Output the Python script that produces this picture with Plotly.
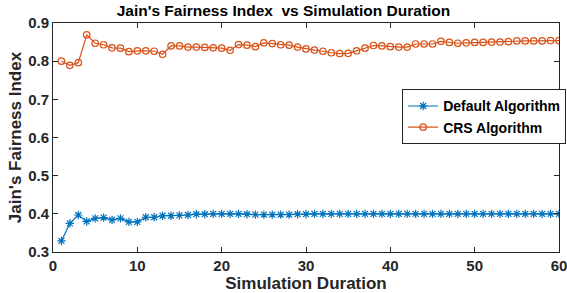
import plotly.graph_objects as go

duration = list(range(1, 61))
default_alg = [0.329, 0.375, 0.397, 0.380, 0.388, 0.390, 0.384, 0.388, 0.379, 0.379,
               0.391, 0.391, 0.395, 0.395, 0.396, 0.397, 0.399, 0.399, 0.400, 0.400,
               0.400, 0.400, 0.399, 0.398, 0.398, 0.398, 0.398, 0.398, 0.399, 0.399,
               0.400, 0.400, 0.400, 0.400, 0.400, 0.400, 0.400, 0.400, 0.400, 0.400,
               0.400, 0.400, 0.400, 0.400, 0.400, 0.400, 0.400, 0.400, 0.400, 0.400,
               0.400, 0.400, 0.400, 0.400, 0.400, 0.400, 0.400, 0.400, 0.400, 0.400]
crs_alg = [0.800, 0.789, 0.796, 0.869, 0.847, 0.843, 0.835, 0.834, 0.825, 0.827,
           0.827, 0.826, 0.818, 0.840, 0.840, 0.837, 0.837, 0.836, 0.835, 0.834,
           0.8285, 0.8435, 0.842, 0.838, 0.848, 0.846, 0.843, 0.842, 0.837, 0.832,
           0.829, 0.826, 0.822, 0.820, 0.8205, 0.827, 0.834, 0.841, 0.840, 0.838,
           0.837, 0.837, 0.845, 0.845, 0.845, 0.852, 0.849, 0.847, 0.848, 0.849,
           0.849, 0.850, 0.850, 0.851, 0.853, 0.853, 0.853, 0.853, 0.854, 0.854]
x_ticks = [0, 10, 20, 30, 40, 50, 60]
y_ticks = [0.3, 0.4, 0.5, 0.6, 0.7, 0.8, 0.9]

FONT = "Liberation Sans, Arial, Helvetica, sans-serif"
BLUE = "#0072BD"
ORANGE = "#D95319"
DARK = "#262626"

fig = go.Figure()
fig.add_trace(go.Scatter(
    x=duration, y=default_alg, name="Default Algorithm", mode="lines+markers",
    line=dict(color=BLUE, width=1.2),
    marker=dict(symbol="asterisk-open", size=7, color=BLUE, line=dict(color=BLUE, width=1.2)),
))
fig.add_trace(go.Scatter(
    x=duration, y=crs_alg, name="CRS Algorithm", mode="lines+markers",
    line=dict(color=ORANGE, width=1.2),
    marker=dict(symbol="circle-open", size=6.5, color=ORANGE, line=dict(color=ORANGE, width=1.2)),
))

axis_common = dict(
    showline=True, linecolor=DARK, linewidth=1, mirror="ticks", automargin=False,
    ticks="inside", ticklen=5, tickcolor=DARK, showgrid=False, zeroline=False,
    ticklabeloverflow="allow",
    tickfont=dict(family=FONT, size=15, color=DARK, weight="bold"),
)
fig.update_xaxes(range=[0, 60], tickvals=x_ticks,
                 title=dict(text="Simulation Duration", standoff=0,
                            font=dict(family=FONT, size=17, color=DARK, weight="bold")),
                 **axis_common)
fig.update_yaxes(range=[0.3, 0.9], tickvals=y_ticks, tickformat=".1f",
                 title=dict(text="Jain's Fairness Index", standoff=2,
                            font=dict(family=FONT, size=17, color=DARK, weight="bold")),
                 **axis_common)

fig.update_layout(
    width=567, height=293,
    margin=dict(l=53, r=8, t=23, b=41, autoexpand=False),
    paper_bgcolor="white", plot_bgcolor="white",
    title=dict(text="Jain's Fairness Index  vs Simulation Duration", x=0.5, xanchor="center",
               y=0.965, yanchor="middle",
               font=dict(family=FONT, size=15.5, color="black", weight="bold")),
    legend=dict(x=0.69, y=0.59, xanchor="left", yanchor="middle",
                bgcolor="white", bordercolor=DARK, borderwidth=1,
                font=dict(family=FONT, size=14, color="black", weight="bold"),
                itemwidth=30, tracegroupgap=0),
    showlegend=True,
)

fig.write_html("out.html", config={"displayModeBar": False},
               post_script="document.body.style.margin='0';")
